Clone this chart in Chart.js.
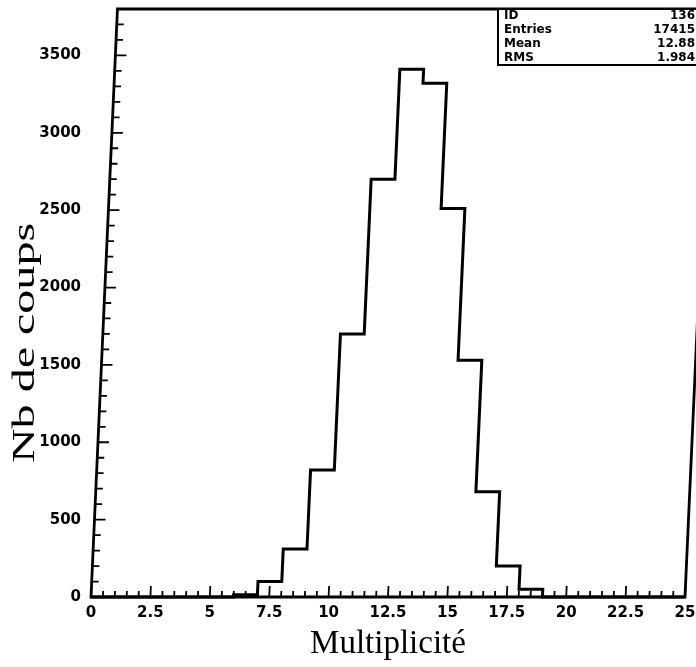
<!DOCTYPE html>
<html>
<head>
<meta charset="utf-8">
<script src="https://cdn.jsdelivr.net/npm/chart.js@4/dist/chart.umd.min.js"></script>
<style>
  html, body { margin: 0; padding: 0; background: #fff; }
  canvas { display: block; }
</style>
</head>
<body>
<canvas id="c" width="696" height="667" style="width:696px;height:667px"></canvas>
<script>
// ---- data ----
const binStart = 0;
const binWidth = 1;
const counts = [0, 0, 0, 0, 0, 0, 15, 100, 310, 820, 1700, 2700, 3410, 3320, 2510, 1530, 680, 200, 50, 0, 0, 0, 0, 0, 0];
const xMajorTicks = [0, 2.5, 5, 7.5, 10, 12.5, 15, 17.5, 20, 22.5, 25];
const yMajorTicks = [0, 500, 1000, 1500, 2000, 2500, 3000, 3500];
const xMinorStep = 0.5;
const yMinorStep = 100;
const xRange = [0, 25];
const yRange = [0, 3800];
const xTitle = 'Multiplicité';
const yTitle = 'Nb de coups';
const statsLabels = ['ID', 'Entries', 'Mean', 'RMS'];
const statsValues = ['136', '17415', '12.88', '1.984'];

// step outline points (left edge of each bin holds its value)
const points = counts.map((v, i) => ({ x: binStart + i * binWidth, y: v }));
points.push({ x: binStart + counts.length * binWidth, y: counts[counts.length - 1] });

const frameLW = 2.8;
const skew = 0.045; // the scanned frame leans to the right

function applySkew(ctx, a) {
  ctx.setTransform(1, 0, -skew, 1, skew * a.bottom, 0);
}

const framePlugin = {
  id: 'frame',
  beforeDatasetsDraw(chart) {
    chart.ctx.save();
    applySkew(chart.ctx, chart.chartArea);
  },
  afterDatasetsDraw(chart) {
    chart.ctx.restore();
  },
  afterDraw(chart) {
    const ctx = chart.ctx;
    const a = chart.chartArea;
    const xs = chart.scales.x, ys = chart.scales.y;
    ctx.save();
    applySkew(ctx, a);
    ctx.strokeStyle = '#000';
    ctx.lineWidth = frameLW;
    ctx.strokeRect(a.left, a.top, a.right - a.left, a.bottom - a.top);

    // inward ticks, bottom axis
    ctx.lineWidth = 1.8;
    ctx.beginPath();
    for (let v = xRange[0]; v <= xRange[1] + 1e-9; v += xMinorStep) {
      const px = xs.getPixelForValue(v);
      const major = xMajorTicks.some(t => Math.abs(t - v) < 1e-6);
      const len = major ? 11 : 6;
      ctx.moveTo(px, a.bottom);
      ctx.lineTo(px, a.bottom - len);
    }
    // inward ticks, left axis
    for (let v = yRange[0]; v <= yRange[1] + 1e-9; v += yMinorStep) {
      const py = ys.getPixelForValue(v);
      const major = yMajorTicks.some(t => Math.abs(t - v) < 1e-6);
      const len = major ? 11 : 7;
      ctx.moveTo(a.left, py);
      ctx.lineTo(a.left + len, py);
    }
    ctx.stroke();
    ctx.restore();

    ctx.save();
    // y title (stretched serif, like the scan)
    ctx.fillStyle = '#000';
    ctx.save();
    ctx.translate(26, (a.top + a.bottom) / 2 + 40);
    ctx.rotate(-Math.PI / 2);
    ctx.scale(1.55, 1);
    ctx.font = '31px "Liberation Serif", "DejaVu Serif", serif';
    ctx.textAlign = 'center';
    ctx.textBaseline = 'middle';
    ctx.fillText(yTitle, 0, 0);
    ctx.restore();

    // statistics box
    const bx = 498, by = a.top, bw = 230, rowH = 14;
    const bh = rowH * statsLabels.length;
    ctx.fillStyle = '#fff';
    ctx.fillRect(bx, by, bw, bh);
    ctx.lineWidth = 2;
    ctx.strokeRect(bx, by, bw, bh);
    ctx.fillStyle = '#000';
    ctx.font = 'bold 12px "DejaVu Sans", sans-serif';
    ctx.textBaseline = 'middle';
    statsLabels.forEach((lab, i) => {
      const y = by + rowH * (i + 0.5);
      ctx.textAlign = 'left';
      ctx.fillText(lab, bx + 6, y);
      ctx.textAlign = 'right';
      ctx.fillText(statsValues[i], 695, y);
    });
    ctx.restore();
  }
};

new Chart(document.getElementById('c'), {
  type: 'line',
  data: {
    datasets: [{
      data: points,
      stepped: true,
      borderColor: '#000',
      borderWidth: 3,
      pointRadius: 0,
      fill: false,
      tension: 0,
      clip: false
    }]
  },
  options: {
    responsive: false,
    devicePixelRatio: 1,
    animation: false,
    layout: { padding: { top: 9, right: 11, bottom: 0, left: 0 } },
    plugins: { legend: { display: false }, tooltip: { enabled: false } },
    scales: {
      x: {
        type: 'linear',
        min: xRange[0],
        max: xRange[1],
        afterBuildTicks: s => { s.ticks = xMajorTicks.map(v => ({ value: v })); },
        afterFit: s => { s.height = 70; s.paddingLeft = 0; s.paddingRight = 0; },
        grid: { display: false, drawTicks: false },
        border: { display: false },
        ticks: {
          color: '#000',
          padding: 7,
          maxRotation: 0,
          autoSkip: false,
          font: { family: '"DejaVu Sans", sans-serif', weight: 'bold', size: 15 },
          callback: v => String(v)
        },
        title: {
          display: true,
          text: xTitle,
          color: '#000',
          padding: { top: 0, bottom: 3 },
          font: { family: '"Liberation Serif", "DejaVu Serif", serif', size: 33 }
        }
      },
      y: {
        type: 'linear',
        min: yRange[0],
        max: yRange[1],
        afterBuildTicks: s => { s.ticks = yMajorTicks.map(v => ({ value: v })); },
        afterFit: s => { s.width = 91; s.paddingTop = 0; s.paddingBottom = 0; },
        grid: { display: false, drawTicks: false },
        border: { display: false },
        ticks: {
          color: '#000',
          padding: 10,
          autoSkip: false,
          font: { family: '"DejaVu Sans", sans-serif', weight: 'bold', size: 15 },
          callback: v => String(v)
        }
      }
    }
  },
  plugins: [framePlugin]
});
</script>
</body>
</html>
